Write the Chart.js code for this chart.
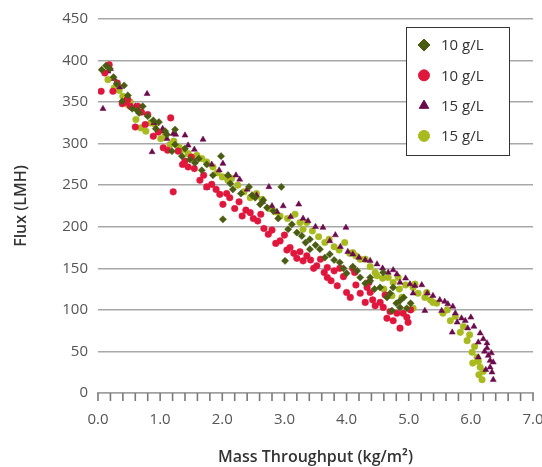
<!DOCTYPE html>
<html>
<head>
<meta charset="utf-8">
<script src="https://cdn.jsdelivr.net/npm/chart.js@4.4.1/dist/chart.umd.min.js"></script>
<style>
  html, body { margin: 0; padding: 0; background: #fff; overflow: hidden; }
  #wrap { width: 542px; height: 467px; overflow: hidden; }
</style>
</head>
<body>
<div id="wrap"><canvas id="chart" width="548" height="467"></canvas></div>
<script>
// Данные: [x (kg/m2), flux (LMH)]
const seriesLabels = ['10 g/L', '10 g/L', '15 g/L', '15 g/L'];

const darkGreenPts = [
  [0.06,389],[0.13,394],[0.19,390],[0.25,380],[0.30,372],[0.42,370],[0.48,358],[0.39,351],[0.55,342],[0.63,340],
  [0.72,345],[0.66,337],[0.80,333],[0.89,328],[0.98,326],[0.93,318],[1.08,315],[1.11,311],[1.24,317],[1.24,299],
  [1.19,291],[1.35,285],[1.40,294],[1.48,281],[1.56,277],[1.62,282],[1.67,268],[1.75,275],[1.85,262],[1.98,285],
  [2.01,209],[2.09,262],[2.13,252],[2.17,245],[2.30,240],[2.43,248],[2.48,238],[2.53,235],[2.61,227],[2.66,232],
  [2.72,223],[2.82,219],[2.95,248],[2.90,210],[3.01,159],[3.06,197],[3.12,203],[3.20,193],[3.28,189],[3.34,181],
  [3.41,185],[3.41,173],[3.50,178],[3.57,173],[3.65,163],[3.73,167],[3.80,160],[3.89,157],[3.95,150],[4.00,144],
  [4.10,152],[4.17,147],[4.22,139],[4.30,132],[4.38,135],[4.38,139],[4.45,125],[4.54,127],[4.59,145],[4.65,115],
  [4.70,120],[4.75,127],[4.73,99],[4.80,108],[4.86,111],[4.86,103],[4.92,115],[4.97,102],[5.03,108]
];

const redPts = [
  [0.05,363],[0.11,385],[0.18,395],[0.24,363],[0.31,373],[0.39,348],[0.45,350],[0.48,353],[0.52,345],[0.60,320],
  [0.64,345],[0.70,338],[0.76,323],[0.80,335],[0.89,309],[0.97,314],[1.05,295],[1.12,292],[1.17,331],[1.21,242],
  [1.29,291],[1.36,275],[1.40,279],[1.45,272],[1.50,284],[1.55,270],[1.64,256],[1.70,262],[1.75,248],[1.83,251],
  [1.90,245],[1.96,239],[2.01,227],[2.07,240],[2.12,235],[2.20,222],[2.27,230],[2.32,213],[2.38,220],[2.45,217],
  [2.50,210],[2.57,207],[2.62,215],[2.67,198],[2.74,191],[2.80,196],[2.86,180],[2.93,183],[3.00,190],[3.04,172],
  [3.09,175],[3.15,168],[3.20,162],[3.25,170],[3.30,159],[3.36,165],[3.42,160],[3.47,150],[3.52,153],[3.58,161],
  [3.64,145],[3.69,139],[3.69,151],[3.75,135],[3.80,147],[3.85,129],[3.89,150],[3.95,140],[4.00,121],[4.06,115],
  [4.10,150],[4.13,145],[4.15,130],[4.22,120],[4.30,109],[4.33,127],[4.36,133],[4.38,121],[4.42,112],[4.46,105],
  [4.54,109],[4.59,103],[4.62,118],[4.65,90],[4.70,98],[4.75,87],[4.81,96],[4.86,78],[4.91,96],[4.97,91],
  [4.99,85],[5.03,100]
];

const purplePts = [
  [0.08,342],[0.16,387],[0.20,390],[0.26,378],[0.35,368],[0.45,352],[0.46,355],[0.60,345],[0.71,337],[0.79,360],
  [0.87,290],[0.90,325],[1.03,315],[1.04,318],[1.11,306],[1.21,312],[1.25,311],[1.40,310],[1.45,298],[1.55,293],
  [1.56,278],[1.69,305],[1.75,247],[1.83,275],[1.95,268],[2.01,276],[2.10,262],[2.22,262],[2.28,257],[2.40,245],
  [2.55,238],[2.65,230],[2.75,248],[2.80,225],[2.88,218],[2.98,225],[3.10,212],[3.23,227],[3.30,210],[3.38,207],
  [3.50,200],[3.62,199],[3.73,183],[3.82,190],[3.90,176],[3.99,199],[4.02,170],[4.10,167],[4.20,163],[4.30,160],
  [4.38,159],[4.49,155],[4.58,150],[4.67,145],[4.75,148],[4.81,143],[4.86,133],[4.95,138],[5.02,131],[5.07,120],
  [5.10,129],[5.21,130],[5.26,99],[5.30,120],[5.39,117],[5.50,112],[5.53,99],[5.58,110],[5.63,107],[5.71,104],
  [5.75,96],[5.70,73],[5.78,85],[5.85,90],[5.91,87],[5.95,78],[6.00,91],[6.05,80],[6.12,61],[6.15,72],
  [6.12,43],[6.20,65],[6.22,50],[6.26,60],[6.26,54],[6.24,28],[6.28,45],[6.31,39],[6.31,31],[6.34,25],
  [6.36,37],[6.36,16],[6.33,48]
];

const lightGreenPts = [
  [0.16,377],[0.26,367],[0.34,364],[0.40,357],[0.48,347],[0.52,350],[0.61,329],[0.69,319],[0.77,315],[0.85,325],
  [0.92,323],[1.01,306],[1.08,310],[1.16,299],[1.22,303],[1.30,296],[1.37,293],[1.45,288],[1.52,283],[1.59,286],
  [1.67,282],[1.75,278],[1.85,272],[1.92,265],[2.00,260],[2.09,256],[2.15,258],[2.25,250],[2.35,242],[2.45,235],
  [2.55,240],[2.64,233],[2.75,222],[2.85,218],[2.93,213],[3.05,210],[3.17,215],[3.25,205],[3.30,197],[3.36,205],
  [3.45,195],[3.55,188],[3.65,181],[3.72,185],[3.80,176],[3.88,172],[3.97,181],[4.05,168],[4.10,169],[4.15,165],
  [4.22,161],[4.30,161],[4.38,152],[4.46,145],[4.49,141],[4.58,138],[4.60,125],[4.67,139],[4.73,117],[4.75,133],
  [4.83,139],[4.85,125],[4.89,115],[4.95,130],[5.07,127],[5.07,102],[5.10,131],[5.15,120],[5.26,115],[5.29,121],
  [5.35,112],[5.39,109],[5.45,108],[5.55,96],[5.62,100],[5.67,87],[5.75,92],[5.83,73],[5.88,80],[5.94,63],
  [5.98,70],[6.02,49],[6.03,36],[6.06,56],[6.10,43],[6.12,38],[6.15,31],[6.13,22],[6.18,16],[6.20,26]
];

const xTickMin = 0, xTickMax = 7, xMinorStep = 0.2;
const yTickMin = 0, yTickMax = 450, yTickStep = 50;

const colors = ['#4a5c12', '#e0173d', '#6b0a4c', '#a8ba1e'];
const pointStyles = ['rectRot', 'circle', 'triangle', 'circle'];
const pointRadii = [3.6, 3.3, 3.5, 3.3];

const FONT = "'Open Sans', 'Noto Sans', sans-serif";

function toXY(pts) {
  return pts.map(p => ({ x: p[0], y: p[1] }));
}

// Мелкие засечки под осью X (каждые 0.2)
const minorTicks = {
  id: 'minorTicks',
  afterDraw(chart) {
    const sx = chart.scales.x;
    const ctx = chart.ctx;
    const yTop = chart.chartArea.bottom;
    const n = Math.round((xTickMax - xTickMin) / xMinorStep);
    ctx.save();
    ctx.strokeStyle = '#7a7a7a';
    ctx.lineWidth = 1.6;
    for (let i = 0; i <= n; i++) {
      const px = sx.getPixelForValue(xTickMin + i * xMinorStep);
      ctx.beginPath();
      ctx.moveTo(px, yTop);
      ctx.lineTo(px, yTop + 8);
      ctx.stroke();
    }
    ctx.restore();
  }
};

// Легенда в рамке внутри области графика
const boxLegend = {
  id: 'boxLegend',
  afterDraw(chart) {
    const ctx = chart.ctx;
    const x0 = 406.5, y0 = 27.5, w = 103, h = 128;
    ctx.save();
    ctx.fillStyle = '#fff';
    ctx.fillRect(x0, y0, w, h);
    ctx.strokeStyle = '#333';
    ctx.lineWidth = 1;
    ctx.strokeRect(x0, y0, w, h);
    seriesLabels.forEach((lbl, i) => {
      const cy = 45 + i * 30.3;
      ctx.fillStyle = colors[i];
      ctx.strokeStyle = colors[i];
      ctx.lineWidth = 1;
      Chart.helpers.drawPoint(ctx, {
        pointStyle: pointStyles[i],
        radius: i === 0 ? 6 : 5.5,
        borderWidth: 1
      }, 424, cy);
      ctx.font = '15px ' + FONT;
      ctx.fillStyle = '#333';
      ctx.textBaseline = 'middle';
      ctx.fillText(lbl, 441, cy + 1);
    });
    ctx.restore();
  }
};

const datasets = [darkGreenPts, redPts, purplePts, lightGreenPts].map((pts, i) => ({
  label: seriesLabels[i],
  data: toXY(pts),
  pointStyle: pointStyles[i],
  pointRadius: pointRadii[i],
  pointBackgroundColor: colors[i],
  pointBorderColor: colors[i],
  pointBorderWidth: 0.5,
  showLine: false
}));

new Chart(document.getElementById('chart'), {
  type: 'scatter',
  data: { datasets },
  plugins: [minorTicks, boxLegend],
  options: {
    responsive: false,
    animation: false,
    layout: { padding: { top: 10, right: 0, left: 0, bottom: 0 } },
    plugins: {
      legend: { display: false },
      tooltip: { enabled: false }
    },
    scales: {
      x: {
        type: 'linear',
        min: xTickMin,
        max: xTickMax,
        afterFit: (s) => { s.height = 74; s.paddingRight = 15; s.paddingLeft = 0; },
        ticks: {
          stepSize: 1,
          autoSkip: false,
          maxRotation: 0,
          padding: 10,
          color: '#555',
          font: { family: FONT, size: 15 },
          callback: (v) => Number(v).toFixed(1)
        },
        grid: {
          drawOnChartArea: false,
          drawTicks: true,
          tickLength: 8,
          tickColor: 'rgba(0,0,0,0)'
        },
        border: { display: true, color: '#a0a0a0', width: 1.5 },
        title: {
          display: true,
          text: 'Mass Throughput (kg/m²)',
          color: '#333',
          font: { family: FONT, size: 16, weight: '600' },
          padding: { top: 4, bottom: 0 }
        }
      },
      y: {
        min: yTickMin,
        max: yTickMax,
        afterFit: (s) => { s.width = 98; },
        ticks: {
          stepSize: yTickStep,
          padding: 10,
          color: '#555',
          font: { family: FONT, size: 15 }
        },
        grid: {
          color: '#a8a8a8',
          lineWidth: 1.5,
          drawTicks: false
        },
        border: { display: false },
        title: {
          display: true,
          text: 'Flux (LMH)',
          color: '#333',
          font: { family: FONT, size: 16, weight: '600' },
          padding: { top: 12, bottom: 0 }
        }
      }
    }
  }
});
</script>
</body>
</html>
